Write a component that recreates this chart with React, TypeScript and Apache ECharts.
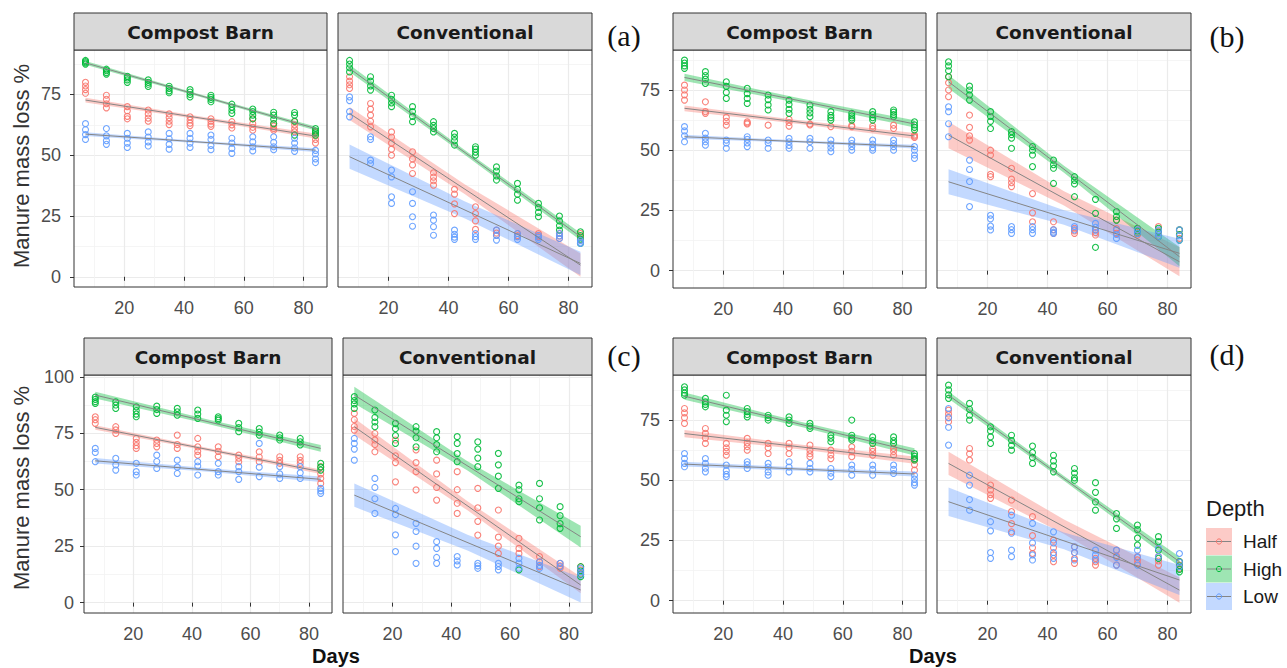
import React, { useEffect, useRef } from 'react';
import * as echarts from 'echarts';

const DAYS = [7, 14, 21, 28, 35, 42, 49, 56, 63, 70, 77, 84];
const DEPTHS = ['Half', 'High', 'Low'];
const DEPTH_COLORS = ['#F8766D', '#00BA38', '#619CFF'];
const STRIPS = ['Compost Barn', 'Conventional'];
const LETTERS = ['(a)', '(b)', '(c)', '(d)'];
const X_TICKS = [20, 40, 60, 80];
const X_MINOR = [10, 30, 50, 70];
const Y_TICKS = [0, 25, 50, 75];
const Y_TICKS_C = [0, 25, 50, 75, 100];
const Y_MINOR = [12.5, 37.5, 62.5, 87.5];
const FIT_DAYS = [7, 45.5, 84];

// ---------- (a) ----------
const A_CB_HALF = [[80, 78.5, 77, 75.5], [74.7, 73, 71.2, 69.5], [70, 68.3, 66, 65], [68.6, 67, 65.3, 64], [67, 65.5, 64, 62.6], [65.8, 64.5, 63.2, 62.2], [65, 64, 62.8, 61.9], [63.8, 62.5, 61.2], [65, 63, 61.5, 60.3], [63, 62, 61, 60.3], [63.8, 62.5, 61, 59.6], [59.6, 58, 56.5, 55]];
const A_CB_HIGH = [[89, 88.5, 88, 87.5], [85.4, 84.8, 84, 83.4], [82.5, 81.8, 81, 80], [81, 80, 79.2, 78.3], [78.4, 77.5, 76.5, 75.7], [77, 76, 75, 74], [74.7, 73.8, 73, 72], [71, 69.8, 68.5, 67.2], [69, 68, 66.5, 65], [67.7, 66.5, 64.8, 63], [67.6, 66.5, 64, 58.3], [61, 60, 59.2, 58.3]];
const A_CB_LOW = [[63, 60.5, 58.5, 56.5], [61, 58, 56, 54.5], [59, 57, 55, 53.2], [59.6, 57.5, 55.5, 53.8], [59, 56.8, 54.5, 52.5], [59, 57, 55, 53.2], [58.3, 56.5, 54, 52.3], [57, 55, 52.8, 50.8], [57.6, 55.5, 53.5, 51.8], [57.6, 55.3, 53.5, 52.3], [57, 55, 53, 51.6], [52, 50.5, 48.5, 47]];
const A_CONV_HALF = [[82.3, 80.5, 79, 77.5], [71.3, 69, 66.5, 64, 61.7], [59.6, 57.5, 55, 52.5, 50], [51.4, 48.5, 46, 42.5], [42.8, 41, 39.5, 37.7], [36, 34, 30, 26], [28.8, 26, 23, 19.5], [19.2, 18, 17.1], [17.8, 17, 16.5], [17.8, 17, 16.5], [17.8, 16.8, 15.8], [17.8, 16.5, 15.1]];
const A_CONV_HIGH = [[89, 87.5, 86, 84.3], [82.3, 80.5, 78.5, 76.8], [74.7, 73, 71.5, 70], [70, 68, 66, 63.8], [63.8, 62.3, 61, 59.6], [59, 57.5, 56, 54.2], [53.5, 52.5, 51.3, 50], [45.2, 43.5, 41.5, 39.8], [38.4, 36, 34, 31.5], [30.2, 28.5, 26.5, 24.7], [25, 23, 21, 19.2], [18.5, 17, 15.5, 13.7]];
const A_CONV_LOW = [[74, 72.5, 68, 65.8], [57.6, 56.5, 48, 46.6], [43.9, 41.1, 32.9, 30.2], [35, 30.2, 24.7, 20.8], [25.4, 23.3, 20.6, 17.1], [19.2, 17.5, 16.3, 15.4], [17.8, 16.5, 15.4], [19.2, 17, 15.1], [17.8, 16.5, 15.4], [17.1, 16.2, 15.4], [17.8, 16.8, 15.8], [15, 14.2, 13.7]];

// ---------- (b) ----------
const B_CB_HALF = [[77, 75, 73, 70.8], [70.1, 66, 65.3], [63.6, 62, 60.4], [61.8, 61.3, 60.9], [60.4], [62.8, 61.5, 60], [60.9, 60.5], [59.8], [59.8, 60.2], [60, 59], [60.4, 59], [56.3, 55.8, 55.3]];
const B_CB_HIGH = [[87.4, 86.2, 85, 84], [82.6, 81, 79.5, 77.7], [78.4, 76.5, 74, 71.5], [75.7, 73.5, 71.5, 69.4], [72.9, 71, 68.8, 66.7], [70.8, 69, 67, 65.3], [68.7, 67, 65.5, 63.9], [66, 64.5, 63.5, 62.5], [65.3, 64.3, 63.4, 62.5], [66, 64.8, 63.5, 62.5], [66.7, 65.8, 64.8, 63.9], [61.8, 60.5, 59.5, 58.4]];
const B_CB_LOW = [[59.8, 58, 56, 53.5], [57, 55, 53.5, 52.1], [54.2, 53, 50.8], [55.6, 54.5, 53, 51.5], [54.2, 53, 50.8], [54.9, 53.5, 52, 50.8], [54.9, 53.5, 50.8], [54.2, 52.5, 51, 49.4], [54.2, 52.8, 51.5, 50], [54.2, 52.5, 51, 50], [54.2, 52.8, 51.5, 50], [51.5, 50, 48, 46.6]];
const B_CONV_HALF = [[80.5, 78, 75, 72.2], [64.6, 59.5, 56, 54.2], [50, 48, 40, 39], [42.5, 38, 36.5, 34.9], [32, 24, 20.3], [20.3, 17, 15.5], [17.6, 16.5, 15.5], [16.9, 15.8, 14.8], [21, 17.5, 15.5], [16.9, 15.8, 14.8], [18.3, 16.5, 15.5], [16.9, 15, 13.4]];
const B_CONV_HIGH = [[86.7, 85, 83, 80.5], [76.6, 75, 73, 70.8], [66, 64, 62, 59], [57.7, 56.5, 55, 50.8], [51.5, 50, 48, 43.2], [45.9, 44, 42.5, 36.2], [39, 37.5, 36, 30.7], [29.6, 23.8, 9.7], [24.5, 22.5, 21], [17.6, 16.5, 15.5], [17.6, 16, 14.1], [16.9, 15, 12.7]];
const B_CONV_LOW = [[68, 66, 61, 55.6], [45.9, 42, 37, 26.6], [23, 21.5, 18.5, 16.9], [18.3, 17, 15.5], [18.3, 17, 15.5], [16.9, 16, 15.5], [18.3, 16.9], [19.6, 18, 16.9], [16.9, 15, 13.4], [16.9, 15.5], [16.9, 15.5, 14.1], [16.9, 14.5, 12.7]];

// ---------- (c) ----------
const C_CB_HALF = [[82.3, 81, 79.4], [77.9, 76.5, 74.9], [72.7, 71, 69.5, 68.3], [72, 70.5, 69], [74.2, 70, 68.3], [72.7, 69, 67, 65.3], [69, 67, 64.6], [65.3, 64, 62.4], [66.8, 64.5, 62.4], [64.6, 63, 61.7], [64.6, 63, 61.7], [60.2, 57, 55, 52.8]];
const C_CB_HIGH = [[91, 90, 89, 88.2], [88.9, 87.5, 86], [86.7, 85, 83.5, 82.3], [87, 85.5, 83.8], [86, 84.5, 83], [85.3, 83.5, 81.6], [82.3, 81.5, 80.8], [79.4, 77.5, 75.7], [77.1, 75.5, 74.2], [74.2, 73, 72], [72.7, 71.2, 69.8], [61.7, 60, 58.7]];
const C_CB_LOW = [[68.3, 66.5, 62.4], [63.9, 61, 58.7], [61.7, 58, 56.5], [65.3, 62.5, 59.4], [63.1, 60, 57.2], [62.4, 60.5, 56.5], [61.7, 58, 56.5], [60.2, 58, 54.6], [70.5, 60, 55.8], [60.2, 57, 55], [60.2, 57.5, 55], [50.6, 49.5, 48.4]];
const C_CONV_HALF = [[83.8, 81, 78, 76.4], [74.9, 72, 70, 66.8], [72, 65, 62, 53.5], [67.6, 62, 58, 49.9], [63.1, 57, 51, 45.4], [58, 50, 44, 39.5], [50.6, 42, 36, 29.9], [41, 29, 25, 21.8], [28.5, 24, 21.8], [20.4, 18, 15.9], [17.4, 16.3, 15.2], [15.9, 14.5, 13]];
const C_CONV_HIGH = [[91.2, 89.5, 88, 86], [85.3, 82, 80, 77.9], [79.4, 77, 74, 70.5], [77.9, 76, 73, 69], [75.7, 73, 70, 66.8], [73.5, 70.5, 66, 62.4], [71.2, 68, 64, 60.2], [66.1, 61, 56, 50.6], [52, 50, 46, 44.7, 14.5], [52.8, 46, 42, 36.6], [42.5, 38.5, 35, 32.9], [15.9, 14, 12.5, 11.5]];
const C_CONV_LOW = [[72.7, 70.5, 68, 63.1], [55, 51, 46, 39.5], [41.7, 39, 30, 22.6], [35.1, 31.5, 25, 17.4], [27, 24, 20, 17.4], [20.4, 18.5, 16.7], [17.4, 16.3, 15.2], [17.4, 16, 14.5], [19.6, 17.5, 15.2], [18.1, 16.5, 15.2], [17.4, 15.9], [15.2, 13.5, 12.2]];

// ---------- (d) ----------
const D_CB_HALF = [[79.8, 78, 76, 73.6], [71.5, 69.5, 67.5, 65.3], [65.3, 63.5, 62, 60.4], [67.4, 65.5, 64, 62.5], [65.3, 63.5, 61.1], [65.3, 63.5, 61.1], [64.6, 62.5, 61, 59.8], [62.5, 60.5, 59], [63.9, 62, 59.8], [63.2, 62, 60.4], [63.2, 62, 60.4], [58.4, 56.5, 54.2]];
const D_CB_HIGH = [[88.8, 87.5, 86.2, 85.3], [84, 82.5, 81.5, 80.5], [85.3, 79.1, 77, 74.3], [79.8, 78.5, 77.3, 76.3], [77, 76, 75], [76.3, 75, 73.6], [73.6, 72.5, 71.5], [68.7, 67.5, 66], [75, 68.7, 67.5, 66.7], [68, 66.5, 65.3], [68, 66.5, 65.3], [61.1, 60, 59, 58.4]];
const D_CB_LOW = [[61.1, 59, 57, 55.6], [59, 57, 55, 53.5], [56.3, 54, 52.5, 51.5], [57.7, 56.5, 54.9], [57, 55.5, 53.5, 52.1], [57.7, 55.5, 53.5], [57, 55, 53.5], [54.9, 53, 51.5], [56.3, 54.5, 52.1], [56.3, 54.5, 52.1], [56.3, 54.5, 52.8], [52.1, 50.5, 49, 48]];
const D_CONV_HALF = [[79.1, 77.5, 76, 74.3], [63.2, 61, 58.4], [48, 46, 44, 42.5], [41.8, 37, 32, 28.6], [34.9, 27, 22, 19.6], [25.2, 22, 19, 16.2], [22.4, 20, 17.5, 15.5], [17.6, 16.2, 14.8], [21, 18.5, 14.8], [18.3, 17, 15.5], [18.3, 16.5, 14.8], [16.2, 14.8, 13.4]];
const D_CONV_HIGH = [[89.5, 87.5, 85.5, 84], [81.9, 79.5, 77, 75], [72.2, 70.5, 68, 65.3], [68.7, 66.5, 64.5, 62.5], [64.2, 61.5, 59.5, 57], [60.4, 58, 56, 53.5], [54.9, 53, 51, 50], [49, 45, 41, 37.6], [36.2, 34, 30], [31.4, 29.5, 26, 23.1], [26.6, 24.5, 21, 17.6], [16.2, 14.5, 13, 12]];
const D_CONV_LOW = [[79.8, 76, 72, 64.6], [52.1, 48, 42, 37.6], [32.8, 29, 20, 17.6], [35.5, 28, 21, 18.3], [32.1, 24, 19, 16.9], [28.6, 24, 20, 17.6], [22.4, 20, 16.9], [21, 19, 16.9], [21, 18, 14.8], [21, 18, 14.8], [21.7, 18.3], [19.6, 16, 14.1]];

// fitted line values at day 7 and day 84 (Half, High, Low)
const A_CB_FIT = [[72.7, 57.9], [88, 61], [58.7, 52.1]];
const A_CONV_FIT = [[67.2, 4.8], [85.7, 16.5], [49.4, 5.5]];
const B_CB_FIT = [[67.4, 55.9], [80.2, 60.9], [55.6, 51.5]];
const B_CONV_FIT = [[56.3, 3.7], [78.4, 5.8], [36.9, 7.2]];
const C_CB_FIT = [[77.6, 58], [91.9, 68.3], [62.8, 54.6]];
const C_CONV_FIT = [[77.9, 7.8], [91.9, 29.2], [47.6, 5.6]];
const D_CB_FIT = [[69.4, 58.4], [84.9, 61.8], [56.7, 52.6]];
const D_CONV_FIT = [[57, 4.4], [85.3, 16.2], [41.1, 8.6]];

// confidence band half-widths at day 7, 45.5, 84 (Half, High, Low)
const A_CB_CI = [[1, 0.6, 1], [0.8, 0.5, 0.8], [0.8, 0.5, 0.8]];
const A_CONV_CI = [[2.7, 2, 4.8], [1.5, 1, 1.5], [5, 3.5, 4.8]];
const B_CB_CI = [[1.2, 0.8, 1.2], [1.5, 1, 1.5], [0.8, 0.5, 0.8]];
const B_CONV_CI = [[5.5, 3, 6], [2.8, 1.5, 4], [5.2, 3, 6]];
const C_CB_CI = [[1, 0.7, 1], [1.5, 1, 1.5], [1.2, 0.8, 1.2]];
const C_CONV_CI = [[3.7, 2, 3.7], [3.7, 2, 4.8], [5.2, 3.5, 5.5]];
const D_CB_CI = [[1.5, 1, 1.5], [1.5, 1, 1.5], [1, 0.7, 1]];
const D_CONV_CI = [[4.8, 3, 5.2], [1.5, 1, 2], [5.9, 3.5, 6.2]];

const PANEL_POINTS = [
  [A_CB_HALF, A_CB_HIGH, A_CB_LOW], [A_CONV_HALF, A_CONV_HIGH, A_CONV_LOW],
  [B_CB_HALF, B_CB_HIGH, B_CB_LOW], [B_CONV_HALF, B_CONV_HIGH, B_CONV_LOW],
  [C_CB_HALF, C_CB_HIGH, C_CB_LOW], [C_CONV_HALF, C_CONV_HIGH, C_CONV_LOW],
  [D_CB_HALF, D_CB_HIGH, D_CB_LOW], [D_CONV_HALF, D_CONV_HIGH, D_CONV_LOW],
];
const PANEL_FITS = [A_CB_FIT, A_CONV_FIT, B_CB_FIT, B_CONV_FIT, C_CB_FIT, C_CONV_FIT, D_CB_FIT, D_CONV_FIT];
const PANEL_CIS = [A_CB_CI, A_CONV_CI, B_CB_CI, B_CONV_CI, C_CB_CI, C_CONV_CI, D_CB_CI, D_CONV_CI];

// layout (pixels) and axis ranges
const X_RANGE = [3.15, 87.85];
const LAYOUT = [
  { left: 74, right: 327, top: 50, bottom: 287, yMin: -4.2, yMax: 93.3, yTicks: Y_TICKS, yLabels: true, yMargin: 13 },
  { left: 338, right: 592, top: 50, bottom: 287, yMin: -4.2, yMax: 93.3, yTicks: Y_TICKS, yLabels: false, yMargin: 13 },
  { left: 673, right: 926, top: 50, bottom: 288, yMin: -7.2, yMax: 91.6, yTicks: Y_TICKS, yLabels: true, yMargin: 13 },
  { left: 937, right: 1191, top: 50, bottom: 288, yMin: -7.2, yMax: 91.6, yTicks: Y_TICKS, yLabels: false, yMargin: 13 },
  { left: 84, right: 332, top: 375, bottom: 613, yMin: -4.6, yMax: 100.8, yTicks: Y_TICKS_C, yLabels: true, yMargin: 10 },
  { left: 343, right: 592, top: 375, bottom: 613, yMin: -4.6, yMax: 100.8, yTicks: Y_TICKS_C, yLabels: false, yMargin: 10 },
  { left: 673, right: 926, top: 375, bottom: 613, yMin: -5.1, yMax: 93.7, yTicks: Y_TICKS, yLabels: true, yMargin: 13 },
  { left: 937, right: 1191, top: 375, bottom: 613, yMin: -5.1, yMax: 93.7, yTicks: Y_TICKS, yLabels: false, yMargin: 13 },
];
const LETTER_POS = [[624, 35], [1227, 36], [624, 355], [1227, 354]];

const SANS = 'Liberation Sans, Arial, sans-serif';
const STRIP_FONT = 'DejaVu Sans, sans-serif';

function buildOption() {
  const grid: any[] = [];
  const xAxis: any[] = [];
  const yAxis: any[] = [];
  const series: any[] = [];
  const graphic: any[] = [];

  LAYOUT.forEach((L, p) => {
    grid.push({
      left: L.left, top: L.top, width: L.right - L.left, height: L.bottom - L.top,
      show: true, backgroundColor: '#fff', borderWidth: 0, containLabel: false, outerBoundsMode: 'none',
    });
    xAxis.push({
      type: 'value', gridIndex: p, min: X_RANGE[0], max: X_RANGE[1],
      axisLine: { show: false },
      axisTick: { show: true, length: 4, customValues: X_TICKS, lineStyle: { color: '#333', width: 1 } },
      axisLabel: { show: true, customValues: X_TICKS, fontSize: 18, color: '#4D4D4D', margin: 12, fontFamily: SANS },
      splitLine: { show: true, lineStyle: { color: '#EBEBEB', width: 1.2 } },
    });
    xAxis.push({
      type: 'value', gridIndex: p, min: X_RANGE[0], max: X_RANGE[1],
      axisLine: { show: false },
      axisTick: { show: false, customValues: X_MINOR },
      axisLabel: { show: false, customValues: X_MINOR },
      splitLine: { show: true, lineStyle: { color: '#F3F3F3', width: 0.8 } },
    });
    yAxis.push({
      type: 'value', gridIndex: p, min: L.yMin, max: L.yMax, position: 'left',
      axisLine: { show: false },
      axisTick: { show: L.yLabels, length: 4, customValues: L.yTicks, lineStyle: { color: '#333', width: 1 } },
      axisLabel: { show: L.yLabels, customValues: L.yTicks, fontSize: 18, color: '#4D4D4D', margin: L.yMargin, fontFamily: SANS },
      splitLine: { show: true, lineStyle: { color: '#EBEBEB', width: 1.2 } },
    });
    yAxis.push({
      type: 'value', gridIndex: p, min: L.yMin, max: L.yMax, position: 'left',
      axisLine: { show: false },
      axisTick: { show: false, customValues: Y_MINOR },
      axisLabel: { show: false, customValues: Y_MINOR },
      splitLine: { show: true, lineStyle: { color: '#F3F3F3', width: 0.8 } },
    });

    const xi = 2 * p;
    const yi = 2 * p;
    // points
    PANEL_POINTS[p].forEach((arr, d) => {
      const data: number[][] = [];
      DAYS.forEach((day, i) => arr[i].forEach((v) => data.push([day, v])));
      series.push({
        type: 'scatter', name: DEPTHS[d], xAxisIndex: xi, yAxisIndex: yi, data,
        symbol: 'circle', symbolSize: 6, silent: true,
        itemStyle: { color: 'rgba(0,0,0,0)', borderColor: DEPTH_COLORS[d], borderWidth: 1.1, opacity: 0.9 },
      });
    });
    // fitted lines
    PANEL_FITS[p].forEach((fit) => {
      series.push({
        type: 'line', xAxisIndex: xi, yAxisIndex: yi, silent: true,
        data: [[FIT_DAYS[0], fit[0]], [FIT_DAYS[2], fit[1]]],
        symbol: 'none', lineStyle: { color: '#858585', width: 1 },
      });
    });
    // confidence bands
    PANEL_FITS[p].forEach((fit, d) => {
      const ci = PANEL_CIS[p][d];
      const centers = [fit[0], (fit[0] + fit[1]) / 2, fit[1]];
      const band = FIT_DAYS.map((day, k) => [day, centers[k] - ci[k], centers[k] + ci[k]]);
      series.push({
        type: 'custom', xAxisIndex: xi, yAxisIndex: yi, silent: true, clip: true,
        data: band, encode: { x: 0, y: [1, 2] },
        renderItem: (params: any, api: any) => {
          if (params.dataIndex !== 0) return null;
          const upper = band.map((b) => api.coord([b[0], b[2]]));
          const lower = band.slice().reverse().map((b) => api.coord([b[0], b[1]]));
          return {
            type: 'polygon',
            shape: { points: upper.concat(lower) },
            style: { fill: DEPTH_COLORS[d], opacity: 0.38 },
          };
        },
      });
    });

    // panel border
    graphic.push({
      type: 'rect', z: 100, silent: true,
      shape: { x: L.left, y: L.top, width: L.right - L.left, height: L.bottom - L.top },
      style: { fill: 'none', stroke: '#333', lineWidth: 1 },
    });
    // strip
    const stripTop = L.top - 37;
    graphic.push({
      type: 'rect', z: 100, silent: true,
      shape: { x: L.left, y: stripTop, width: L.right - L.left, height: 37 },
      style: { fill: '#D9D9D9', stroke: '#333', lineWidth: 1 },
    });
    graphic.push({
      type: 'text', z: 101, silent: true,
      x: (L.left + L.right) / 2, y: stripTop + 19,
      style: {
        text: STRIPS[p % 2], fill: '#1A1A1A', font: 'bold 18.5px ' + STRIP_FONT,
        align: 'center', verticalAlign: 'middle',
      },
    });
  });

  // panel letters
  LETTERS.forEach((t, i) => {
    graphic.push({
      type: 'text', z: 101, silent: true, x: LETTER_POS[i][0], y: LETTER_POS[i][1],
      style: { text: t, fill: '#111', font: '30px Liberation Serif, Times New Roman, serif', align: 'center', verticalAlign: 'middle' },
    });
  });

  // axis titles
  [166, 488].forEach((cy) => {
    graphic.push({
      type: 'text', z: 101, silent: true, x: 21, y: cy, rotation: Math.PI / 2,
      style: { text: 'Manure mass loss %', fill: '#333', font: '22px ' + SANS, align: 'center', verticalAlign: 'middle' },
    });
  });
  [336, 933].forEach((cx) => {
    graphic.push({
      type: 'text', z: 101, silent: true, x: cx, y: 656,
      style: { text: 'Days', fill: '#111', font: 'bold 20px ' + SANS, align: 'center', verticalAlign: 'middle' },
    });
  });

  // legend
  graphic.push({
    type: 'text', z: 101, silent: true, x: 1206, y: 508,
    style: { text: 'Depth', fill: '#1A1A1A', font: '22px ' + SANS, align: 'left', verticalAlign: 'middle' },
  });
  DEPTHS.forEach((name, i) => {
    const top = 528 + i * 27.5;
    const cy = top + 13.5;
    graphic.push({
      type: 'rect', z: 100, silent: true,
      shape: { x: 1206, y: top, width: 26, height: 27 },
      style: { fill: DEPTH_COLORS[i], opacity: 0.38 },
    });
    graphic.push({
      type: 'line', z: 101, silent: true,
      shape: { x1: 1207, y1: cy, x2: 1231, y2: cy },
      style: { stroke: '#858585', lineWidth: 1 },
    });
    graphic.push({
      type: 'circle', z: 102, silent: true,
      shape: { cx: 1219, cy, r: 2.6 },
      style: { fill: 'none', stroke: DEPTH_COLORS[i], lineWidth: 1 },
    });
    graphic.push({
      type: 'text', z: 101, silent: true, x: 1243, y: cy,
      style: { text: name, fill: '#1A1A1A', font: '19px ' + SANS, align: 'left', verticalAlign: 'middle' },
    });
  });

  return {
    animation: false,
    backgroundColor: '#fff',
    grid, xAxis, yAxis, series, graphic,
  };
}

export default function App() {
  const ref = useRef<HTMLDivElement>(null);
  useEffect(() => {
    if (!ref.current) return;
    const chart = echarts.init(ref.current, null, { renderer: 'svg' });
    chart.setOption(buildOption() as any);
    return () => chart.dispose();
  }, []);
  return (
    <div
      ref={ref}
      style={{ position: 'fixed', left: 0, top: 0, width: 1287, height: 668, background: '#fff' }}
    />
  );
}
